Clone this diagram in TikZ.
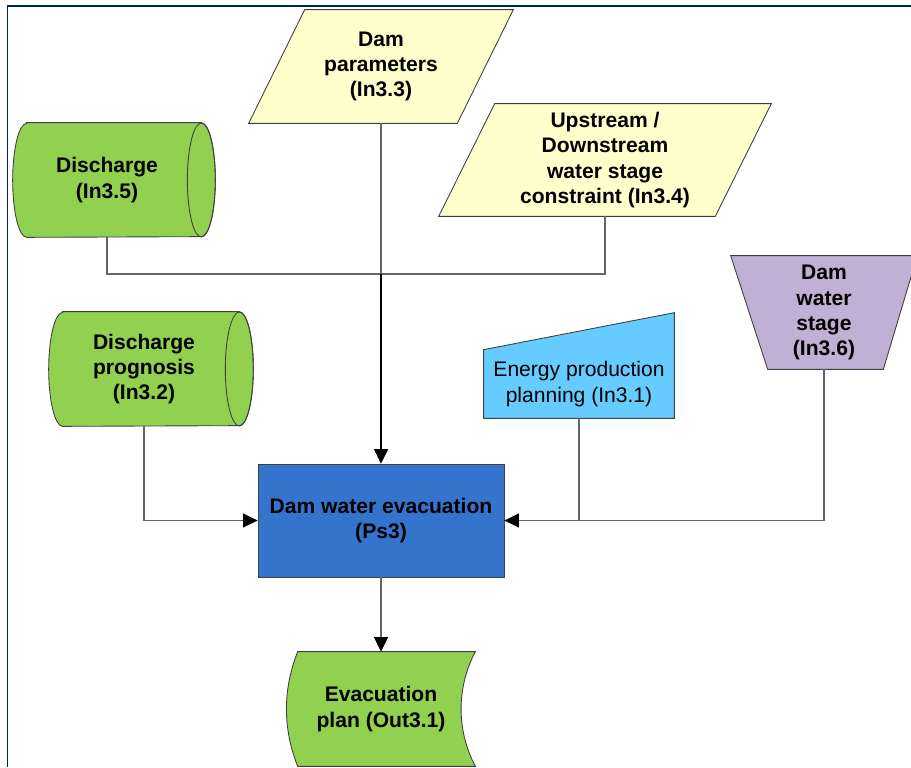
\documentclass[tikz,border=0pt]{standalone}
\usepackage{fontspec}
\setmainfont{Liberation Sans}
\usetikzlibrary{arrows.meta,calc,backgrounds}
\definecolor{framecol}{RGB}{0,32,96}
\definecolor{ingreen}{RGB}{146,208,80}
\definecolor{inyellow}{RGB}{255,255,204}
\definecolor{inblue}{RGB}{102,204,255}
\definecolor{inpurple}{RGB}{192,176,212}
\definecolor{psblue}{RGB}{52,116,204}
\definecolor{edgecol}{RGB}{64,64,64}
\begin{document}
\begin{tikzpicture}[x=0.02cm,y=0.02cm,>={Triangle[length=0.29cm,width=0.28cm,color=black]},
  main node/.style={rectangle,inner sep=0pt,align=center,font=\fontsize{12}{14.3}\selectfont\bfseries},
  shape line/.style={draw=edgecol,line width=0.5pt},
  conn/.style={draw=black!60,line width=0.6pt},
  main conn/.style={draw=black,line width=0.9pt}]

  \useasboundingbox (0,0) rectangle (911,-767);
  \clip (0,0) rectangle (911,-767);

  \node[main node,minimum width=3.76cm,minimum height=2.28cm] (1) at (107,-180) {Discharge\\(In3.5)};
  \node[main node,minimum width=3.8cm,minimum height=2.28cm] (2) at (144,-369) {Discharge\\prognosis\\(In3.2)};
  \node[main node,minimum width=5.28cm,minimum height=2.26cm] (3) at (381,-66.5) {Dam\\parameters\\(In3.3)};
  \node[main node,minimum width=6.64cm,minimum height=2.24cm] (4) at (605,-160) {Upstream /\\Downstream\\water stage\\constraint (In3.4)};
  \node[main node,minimum width=3.8cm,minimum height=1.36cm,font=\fontsize{12}{14.3}\selectfont] (5) at (579,-384) {Energy production\\planning (In3.1)};
  \node[main node,minimum width=3.72cm,minimum height=2.26cm] (6) at (824,-312.5) {Dam\\water\\stage\\(In3.6)};
  \node[main node,shape line,fill=psblue,minimum width=4.92cm,minimum height=2.26cm] (7) at (381,-520.5) {Dam water evacuation\\(Ps3)};
  \node[main node,minimum width=3.76cm,minimum height=2.28cm] (8) at (381,-709) {Evacuation\\plan (Out3.1)};

  \begin{scope}[on background layer]
    % input shapes
    \draw[shape line,fill=ingreen] ($(1.north west)+(14,0)$) -- (1.north east)
      arc[start angle=90,end angle=-90,x radius=0.28cm,y radius=1.14cm] -- ($(1.south west)+(14,0)$)
      arc[start angle=270,end angle=90,x radius=0.28cm,y radius=1.14cm] -- cycle;
    \draw[shape line] (1.east) ellipse[x radius=0.28cm,y radius=1.14cm];
    \draw[shape line,fill=ingreen] ($(2.north west)+(14,0)$) -- (2.north east)
      arc[start angle=90,end angle=-90,x radius=0.28cm,y radius=1.14cm] -- ($(2.south west)+(14,0)$)
      arc[start angle=270,end angle=90,x radius=0.28cm,y radius=1.14cm] -- cycle;
    \draw[shape line] (2.east) ellipse[x radius=0.28cm,y radius=1.14cm];
    \draw[shape line,fill=inyellow] ($(3.north west)+(56,0)$) -- (3.north east)
      -- ($(3.south east)+(-56,0)$) -- (3.south west) -- cycle;
    \draw[shape line,fill=inyellow] ($(4.north west)+(56,0)$) -- (4.north east)
      -- ($(4.south east)+(-56,0)$) -- (4.south west) -- cycle;
    \draw[shape line,fill=inblue] (5.south west) -- (5.north west)
      -- ($(5.north east)+(0,37)$) -- (5.south east) -- cycle;
    \draw[shape line,fill=inpurple] (6.north west) -- (6.north east)
      -- ($(6.south east)+(-34,0)$) -- ($(6.south west)+(37,0)$) -- cycle;
    % output
    \draw[shape line,fill=ingreen] ($(8.north west)+(11,0)$) -- (8.north east)
      .. controls ($(8.north east)+(-19,-36)$) and ($(8.south east)+(-19,36)$) .. (8.south east)
      -- ($(8.south west)+(11,0)$)
      .. controls ($(8.south west)+(-4,38)$) and ($(8.north west)+(-4,-38)$) .. ($(8.north west)+(11,0)$) -- cycle;
  \end{scope}

  \coordinate (j1) at (381,-274);

  \draw[conn] (1.south) |- (j1);
  \draw[conn] (4.south) |- (j1);
  \draw[conn] (3.south) -- (j1);
  \draw[main conn,->] (j1) -- (7.north);
  \draw[conn,->] (2.south) |- (7.west);
  \draw[conn,->] (6.south) |- (7.east);
  \draw[conn] (5.south) -- (5.south |- 7.east);
  \draw[conn,->] (7.south) -- (8.north);

  % frame
  \draw[framecol,line width=1.1pt] (7.5,-767) -- (7.5,-5.8) -- (911,-5.8);
\end{tikzpicture}
\end{document}
